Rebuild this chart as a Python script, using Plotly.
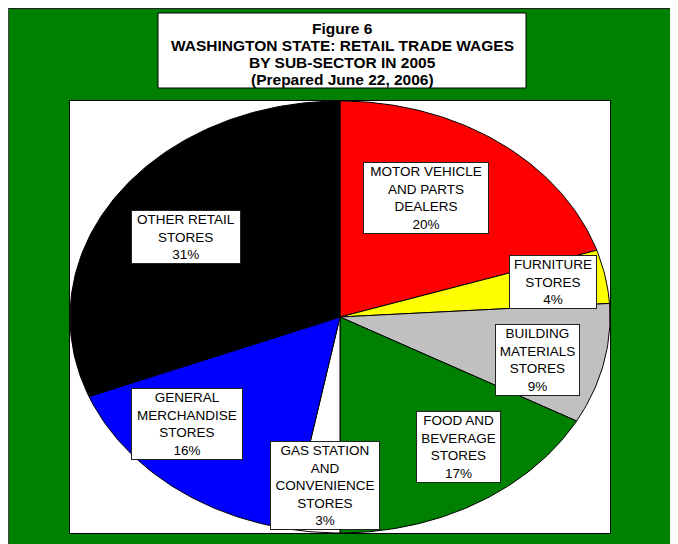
import numpy as np
import plotly.graph_objects as go

# data: slices clockwise from 12 o'clock
sectors = ["MOTOR VEHICLE<br>AND PARTS<br>DEALERS", "FURNITURE<br>STORES",
           "BUILDING<br>MATERIALS<br>STORES", "FOOD AND<br>BEVERAGE<br>STORES",
           "GAS STATION<br>AND<br>CONVENIENCE<br>STORES", "GENERAL<br>MERCHANDISE<br>STORES",
           "OTHER RETAIL<br>STORES"]
shares = [20, 4, 9, 17, 3, 16, 31]
colors = ["#FF0000", "#FFFF00", "#C0C0C0", "#008000", "#FFFFFF", "#0000FF", "#000000"]

title_lines = ["Figure 6", "WASHINGTON STATE: RETAIL TRADE WAGES",
               "BY SUB-SECTOR IN 2005", "(Prepared June 22, 2006)"]

# layout, in page pixels (label box centre x, y, width)
label_boxes = [(426, 198, 126), (553, 282, 88), (537, 360, 85),
               (458, 447, 85), (325, 485, 110), (187, 424, 112),
               (186, 237, 110)]
title_y = [28, 45, 62, 79]

OFF = 8  # page margin round the figure
W, H = 678 - OFF, 544 - OFF
L, R, T, B = 70 - OFF, 610 - OFF, 101 - OFF, 533 - OFF


def px(x):
    return (x - OFF - L) / (R - L)


def py(y):
    return (B - (y - OFF)) / (B - T)


fig = go.Figure()

total = sum(shares)
start = 0.0
for name, val, col in zip(sectors, shares, colors):
    a0 = 2 * np.pi * start / total
    a1 = 2 * np.pi * (start + val) / total
    t = np.linspace(a0, a1, max(int(val * 4), 8))
    xs = np.concatenate([[0], np.sin(t), [0]])
    ys = np.concatenate([[0], np.cos(t), [0]])
    fig.add_trace(go.Scatter(x=xs, y=ys, mode="lines", fill="toself",
                             fillcolor=col, line=dict(color="black", width=1),
                             hoverinfo="skip", showlegend=False))
    start += val

font_lbl = dict(family="Liberation Sans, Arial, sans-serif", size=13.5, color="black")
for name, val, (cx, cy, bw) in zip(sectors, shares, label_boxes):
    fig.add_annotation(x=px(cx), y=py(cy), xref="paper", yref="paper",
                       xanchor="center", yanchor="middle",
                       text=f"{name}<br>{val}%", showarrow=False,
                       font=font_lbl, align="center",
                       width=bw - 4, borderpad=1,
                       bgcolor="white", bordercolor="#222", borderwidth=1)

# title box
fig.add_shape(type="rect", xref="paper", yref="paper",
              x0=px(158), x1=px(526), y0=py(13), y1=py(88),
              fillcolor="white", line=dict(color="black", width=1))
for line, yy in zip(title_lines, title_y):
    fig.add_annotation(x=px(342), y=py(yy), xref="paper", yref="paper",
                       xanchor="center", yanchor="middle",
                       text=f"<b>{line}</b>", showarrow=False,
                       font=dict(family="Liberation Sans, Arial, sans-serif",
                                 size=15.5, color="black"))

# dark frame along the top and left edge of the green chart area
fig.add_shape(type="line", xref="paper", yref="paper",
              x0=px(OFF), x1=px(W + 2 * OFF), y0=py(OFF), y1=py(OFF),
              line=dict(color="#222", width=2))
fig.add_shape(type="line", xref="paper", yref="paper",
              x0=px(OFF), x1=px(OFF), y0=py(OFF), y1=py(H + 2 * OFF),
              line=dict(color="#444", width=2))

axis_kw = dict(range=[-1, 1], showgrid=False, zeroline=False, showticklabels=False,
               ticks="", showline=True, mirror=True, linecolor="black", linewidth=1,
               fixedrange=True)
fig.update_layout(
    width=W, height=H,
    margin=dict(l=L, r=W - R, t=T, b=H - B),
    paper_bgcolor="#008000", plot_bgcolor="white",
    showlegend=False, hovermode=False,
    xaxis=axis_kw, yaxis=axis_kw,
)

fig.write_html("out.html", config={"displayModeBar": False})
